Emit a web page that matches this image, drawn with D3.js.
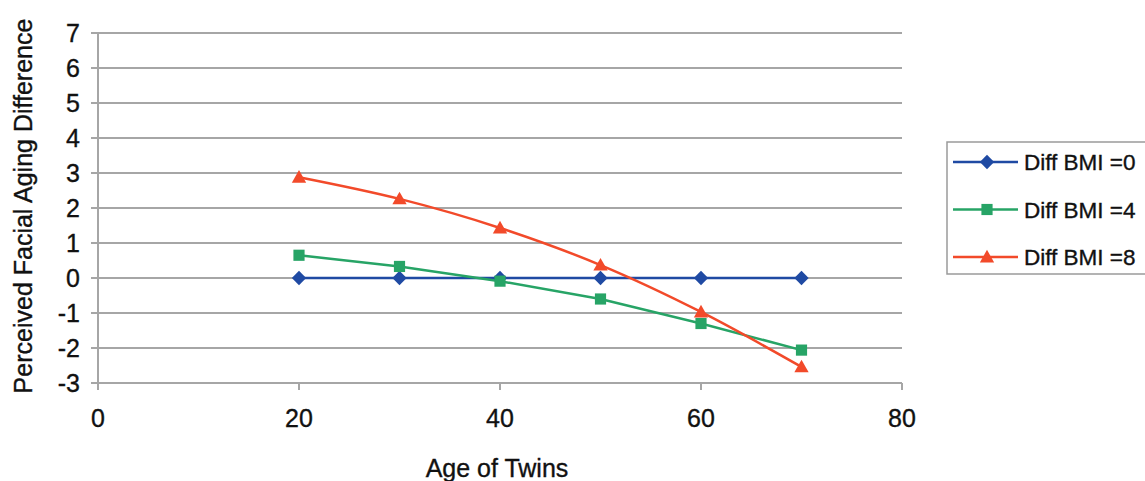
<!DOCTYPE html>
<html><head><meta charset="utf-8">
<script src="https://cdn.jsdelivr.net/npm/d3@7"></script>
<style>html,body{margin:0;padding:0;background:#fff;overflow:hidden}svg{display:block}
text{stroke:#111;stroke-width:0.35px}</style>
</head><body>
<script>
const ages = [20, 30, 40, 50, 60, 70];
const bmi0 = [0, 0, 0, 0, 0, 0];
const bmi4 = [0.65, 0.33, -0.09, -0.6, -1.3, -2.06];
const bmi8 = [2.88, 2.26, 1.43, 0.37, -0.97, -2.54];
const seriesNames = ["Diff BMI =0", "Diff BMI =4", "Diff BMI =8"];
const xTicks = [0, 20, 40, 60, 80];
const yTicks = [-3, -2, -1, 0, 1, 2, 3, 4, 5, 6, 7];

const W = 1145, H = 481;
const svg = d3.select("body").append("svg").attr("width", W).attr("height", H);
const font = "'Liberation Sans', Arial, sans-serif";
const fs = 25;

const x = d3.scaleLinear().domain([0, 80]).range([98, 902]);
const y = d3.scaleLinear().domain([-3, 7]).range([383, 33]);
const grid = "#a6a6a6";

// gridlines
svg.append("g").selectAll("line").data(yTicks).join("line")
  .attr("x1", 91).attr("x2", x(80)).attr("y1", d => y(d)).attr("y2", d => y(d))
  .attr("stroke", grid).attr("stroke-width", 2);
// left axis line
svg.append("line").attr("x1", x(0)).attr("x2", x(0)).attr("y1", y(7)).attr("y2", y(-3) + 7)
  .attr("stroke", grid).attr("stroke-width", 2);
// x tick marks
svg.append("g").selectAll("line").data(xTicks).join("line")
  .attr("x1", d => x(d)).attr("x2", d => x(d)).attr("y1", y(-3)).attr("y2", y(-3) + 7)
  .attr("stroke", grid).attr("stroke-width", 2);

// y tick labels
svg.append("g").selectAll("text").data(yTicks).join("text")
  .attr("x", 80).attr("y", d => y(d)).attr("dy", "0.36em").attr("text-anchor", "end")
  .attr("font-family", font).attr("font-size", fs).attr("fill", "#111")
  .text(d => d);
// x tick labels
svg.append("g").selectAll("text").data(xTicks).join("text")
  .attr("x", d => x(d)).attr("y", 427).attr("text-anchor", "middle")
  .attr("font-family", font).attr("font-size", fs).attr("fill", "#111")
  .text(d => d);

// axis titles
svg.append("text").attr("transform", `translate(32,206) rotate(-90)`)
  .attr("text-anchor", "middle").attr("font-family", font).attr("font-size", 25).attr("fill", "#111")
  .text("Perceived Facial Aging Difference");
svg.append("text").attr("x", 497).attr("y", 477).attr("text-anchor", "middle")
  .attr("font-family", font).attr("font-size", fs).attr("fill", "#111")
  .text("Age of Twins");

const colors = ["#1f4aa3", "#27a466", "#f24a2a"];
const data = [bmi0, bmi4, bmi8];
const curves = [d3.curveLinear, d3.curveLinear, d3.curveCatmullRom.alpha(0.5)];

function marker(i, s) {
  if (i === 0) return `M0,${-s*0.55}L${s*0.55},0L0,${s*0.55}L${-s*0.55},0Z`;
  if (i === 1) return `M${-s*0.43},${-s*0.43}H${s*0.43}V${s*0.43}H${-s*0.43}Z`;
  return `M0,${-s*0.55}L${s*0.55},${s*0.42}H${-s*0.55}Z`;
}

data.forEach((vals, i) => {
  const pts = ages.map((a, j) => [a, vals[j]]);
  const line = d3.line().x(d => x(d[0])).y(d => y(d[1])).curve(curves[i]);
  svg.append("path").datum(pts).attr("d", line).attr("fill", "none")
    .attr("stroke", colors[i]).attr("stroke-width", 2.5);
});
data.forEach((vals, i) => {
  const pts = ages.map((a, j) => [a, vals[j]]);
  svg.append("g").selectAll("path").data(pts).join("path")
    .attr("d", marker(i, 13))
    .attr("transform", d => `translate(${x(d[0])},${y(d[1])})`)
    .attr("fill", colors[i]);
});

// legend
const lg = svg.append("g");
lg.append("rect").attr("x", 947).attr("y", 142).attr("width", 220).attr("height", 132)
  .attr("fill", "#fff").attr("stroke", "#9a9a9a").attr("stroke-width", 1.5);
seriesNames.forEach((name, i) => {
  const cy = 162 + i * 47.5;
  lg.append("line").attr("x1", 953).attr("x2", 1018).attr("y1", cy).attr("y2", cy)
    .attr("stroke", colors[i]).attr("stroke-width", 2.5);
  lg.append("path").attr("d", marker(i, 13))
    .attr("transform", `translate(987,${cy})`).attr("fill", colors[i]);
  lg.append("text").attr("x", 1024).attr("y", cy).attr("dy", "0.36em")
    .attr("font-family", font).attr("font-size", 22.5).attr("fill", "#111").text(name);
});
</script>
</body></html>
